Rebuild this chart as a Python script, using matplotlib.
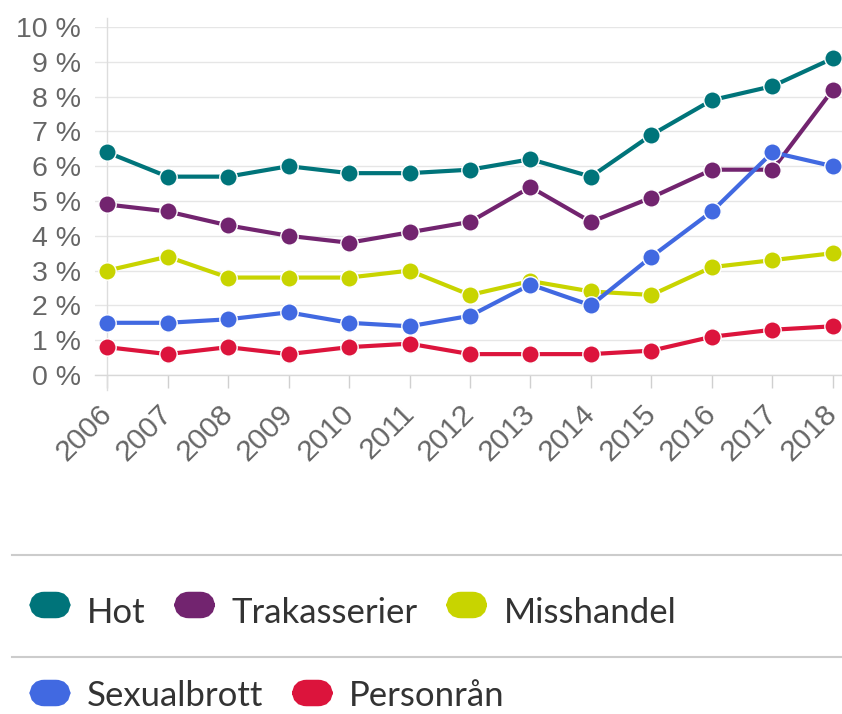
import matplotlib
matplotlib.use("Agg")
import matplotlib.pyplot as plt
from matplotlib.patches import FancyBboxPatch
from matplotlib.lines import Line2D
import matplotlib.transforms as mtransforms

years = ["2006", "2007", "2008", "2009", "2010", "2011", "2012",
         "2013", "2014", "2015", "2016", "2017", "2018"]
hot = [6.4, 5.7, 5.7, 6.0, 5.8, 5.8, 5.9, 6.2, 5.7, 6.9, 7.9, 8.3, 9.1]
trakasserier = [4.9, 4.7, 4.3, 4.0, 3.8, 4.1, 4.4, 5.4, 4.4, 5.1, 5.9, 5.9, 8.2]
misshandel = [3.0, 3.4, 2.8, 2.8, 2.8, 3.0, 2.3, 2.7, 2.4, 2.3, 3.1, 3.3, 3.5]
sexualbrott = [1.5, 1.5, 1.6, 1.8, 1.5, 1.4, 1.7, 2.6, 2.0, 3.4, 4.7, 6.4, 6.0]
personran = [0.8, 0.6, 0.8, 0.6, 0.8, 0.9, 0.6, 0.6, 0.6, 0.7, 1.1, 1.3, 1.4]
y_ticks = [0, 1, 2, 3, 4, 5, 6, 7, 8, 9, 10]

series = [
    ("Hot", hot, "#00747a"),
    ("Trakasserier", trakasserier, "#72246f"),
    ("Misshandel", misshandel, "#c8d400"),
    ("Sexualbrott", sexualbrott, "#4169e1"),
    ("Personrån", personran, "#dc143c"),
]

W, H = 842, 714
fig = plt.figure(figsize=(W / 100, H / 100), dpi=100)

def fx(px):
    return px / W

def fy(py):
    return 1 - py / H

ax = fig.add_axes([fx(95), fy(375), fx(747), 348 / H])
x = list(range(len(years)))

for name, vals, col in series:
    ax.plot(x, vals, color=col, lw=3.0, marker="o", ms=12.5,
            mfc=col, mec="white", mew=1.0, clip_on=False, zorder=3)

ax.set_xlim(-0.2, 12.15)
ax.set_ylim(0, 10)
ax.set_yticks(y_ticks)
ax.set_yticklabels([f"{v} %" for v in y_ticks], fontfamily="Liberation Sans",
                   fontsize=20.5, color="#666666")
ax.set_xticks(x)
ax.set_xticklabels(years, rotation=45, ha="right", va="top",
                   rotation_mode="anchor", fontfamily="Liberation Sans",
                   fontsize=21.5, color="#666666")
ax.tick_params(axis="y", length=0, pad=10)
ax.tick_params(axis="x", length=9.5, width=1, color="#d0d0d0", pad=8)
for lab in ax.get_xticklabels():
    lab.set_transform(lab.get_transform() +
                      mtransforms.ScaledTranslation(-7 / 72, 0, fig.dpi_scale_trans))

ax.grid(axis="y", color="#e6e6e6", lw=1)
ax.set_axisbelow(True)
for s in ["top", "right", "left"]:
    ax.spines[s].set_visible(False)
ax.spines["bottom"].set_color("#d8d8d8")
ax.spines["bottom"].set_linewidth(1)

trans = mtransforms.blended_transform_factory(ax.transData, ax.transAxes)
ax.add_line(Line2D([0, 0], [1.026, -0.043], transform=trans, color="#dddddd",
                   lw=1, clip_on=False, zorder=1))

# separators
for py in (555, 657):
    fig.add_artist(Line2D([fx(12), fx(842)], [fy(py), fy(py)],
                          transform=fig.transFigure, color="#cccccc", lw=1.5))

# legend
renderer = fig.canvas.get_renderer()
rows = [(series[:3], 592, 623), (series[3:], 680, 706)]
for items, mtop, base in rows:
    cx = 30
    for name, vals, col in items:
        patch = FancyBboxPatch((fx(cx + 6), fy(mtop + 26 - 6)), fx(28), 14 / H,
                               boxstyle="round,pad=0,rounding_size=0.01",
                               transform=fig.transFigure, fc=col, ec=col,
                               lw=9, mutation_aspect=W / H)
        fig.add_artist(patch)
        t = fig.text(fx(cx + 57), fy(base), name, fontfamily="Lato",
                     fontsize=25, color="#333333", va="baseline", ha="left")
        wpx = t.get_window_extent(renderer).width
        cx = cx + 57 + wpx + 29

fig.savefig("out.png", dpi=100)
